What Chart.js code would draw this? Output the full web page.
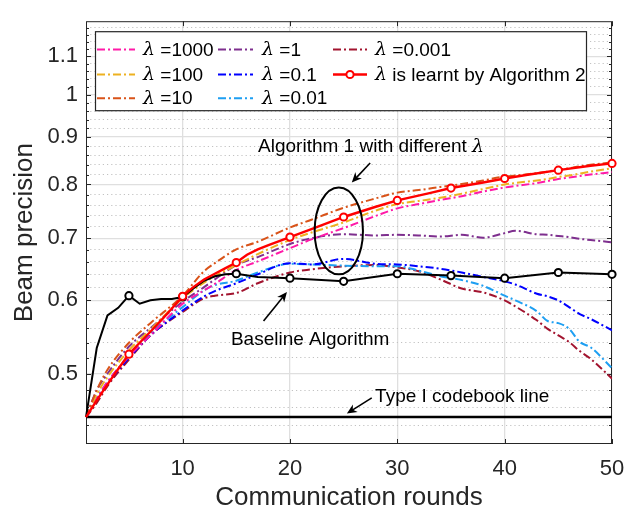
<!DOCTYPE html>
<html><head><meta charset="utf-8">
<script src="https://cdn.jsdelivr.net/npm/chart.js@4.4.0/dist/chart.umd.min.js"></script>
<style>html,body{margin:0;padding:0;background:#fff;overflow:hidden}canvas{display:block}</style>
</head><body>
<canvas id="c" width="639" height="514"></canvas>
<script>
// ---------------- data ----------------
const xTickLabels = [10, 20, 30, 40, 50];
const yTickLabels = [0.5, 0.6, 0.7, 0.8, 0.9, 1, 1.1];

const roundsDashed = [1,2,3,5,7,10,12,13,15,17,20,22,25,28,30,32,34,36,38,40,41,43,44,45,46,47,48,50];
const lambda1000  = [.449,.470,.490,.522,.550,.595,.615,.625,.647,.661,.683,.698,.718,.740,.754,.762,.770,.777,.786,.794,.797,.803,.807,.811,.814,.817,.820,.825];
const lambda100   = [.449,.475,.496,.530,.558,.603,.627,.637,.655,.673,.697,.710,.728,.750,.762,.768,.774,.782,.791,.800,.803,.808,.811,.815,.818,.822,.826,.833];
const lambda10    = [.449,.480,.505,.540,.567,.607,.645,.658,.681,.694,.719,.733,.755,.773,.784,.789,.795,.801,.808,.816,.818,.823,.826,.830,.833,.837,.840,.845];
const lambda1     = [.449,.480,.500,.535,.560,.598,.620,.632,.655,.668,.690,.700,.707,.705,.706,.705,.703,.706,.701,.709,.713,.707,.706,.704,.702,.699,.697,.693];
const lambda0_1   = [.449,.470,.488,.520,.550,.585,.606,.614,.626,.640,.658,.656,.665,.657,.656,.653,.649,.643,.636,.629,.624,.610,.606,.600,.590,.580,.573,.557];
const lambda0_01  = [.449,.470,.490,.522,.553,.590,.615,.623,.630,.643,.657,.656,.654,.653,.653,.646,.637,.631,.622,.607,.600,.584,.570,.567,.559,.541,.534,.507];
const lambda0_001 = [.449,.465,.485,.518,.550,.583,.603,.607,.611,.626,.643,.648,.653,.655,.651,.645,.632,.618,.612,.600,.591,.571,.559,.550,.541,.529,.519,.494];

const roundsLearnt = [1,2,3,4,5,6,7,8,9,10,11,12,13,14,15,16,17,18,20,22,25,28,30,33,35,38,40,42,45,48,50];
const learnt       = [.449,.468,.487,.506,.525,.540,.555,.571,.588,.606,.620,.632,.641,.650,.659,.672,.681,.688,.702,.716,.738,.757,.769,.783,.793,.804,.812,.819,.829,.838,.843];

const roundsBaseline = [1,2,3,4,5,6,7,8,9,10,11,12,13,14,15,17,20,25,30,35,40,45,50];
const baseline       = [.449,.533,.578,.589,.607,.595,.600,.602,.602,.605,.618,.630,.637,.640,.641,.636,.634,.629,.641,.638,.634,.643,.640];

const typeIRounds = [1, 50];
const typeI       = [.449, .449];

// ---------------- styling ----------------
const SANS  = '"Liberation Sans", Arial, Helvetica, sans-serif';
const SERIF = '"DejaVu Serif", "Liberation Serif", serif';
const AXIS  = '#262626';
const DASHDOT = [8, 3, 2, 3];

const pts = (xs, ys) => xs.map((x, i) => ({x: x, y: ys[i]}));
const markerR = c => (c.raw && c.raw.x % 5 === 0) ? 3.6 : 0;

function dashed(label, xs, ys, color, order) {
  return {label, data: pts(xs, ys), borderColor: color, backgroundColor: color,
    borderWidth: 2, borderDash: DASHDOT, pointRadius: 0, fill: false,
    cubicInterpolationMode: 'monotone', order};
}

const datasets = [
  {label: 'λ is learnt by Algorithm 2', data: pts(roundsLearnt, learnt), borderColor: '#ff0000',
   borderWidth: 2.4, tension: 0, pointRadius: markerR, pointBackgroundColor: '#ffffff',
   pointBorderColor: '#ff0000', pointBorderWidth: 2, clip: false, order: 0},
  {label: 'Baseline Algorithm', data: pts(roundsBaseline, baseline), borderColor: '#000000',
   borderWidth: 2, tension: 0, pointRadius: markerR, pointBackgroundColor: '#ffffff',
   pointBorderColor: '#000000', pointBorderWidth: 2, clip: false, order: 1},
  {label: 'Type I codebook line', data: pts(typeIRounds, typeI), borderColor: '#000000',
   borderWidth: 2.5, pointRadius: 0, order: 2},
  dashed('λ =1000', roundsDashed, lambda1000, '#ff1aa8', 5),
  dashed('λ =100', roundsDashed, lambda100, '#edb120', 4),
  dashed('λ =10', roundsDashed, lambda10, '#d95319', 3),
  dashed('λ =1', roundsDashed, lambda1, '#7e2f8e', 6),
  dashed('λ =0.1', roundsDashed, lambda0_1, '#0000ff', 7),
  dashed('λ =0.01', roundsDashed, lambda0_01, '#1e9ff2', 8),
  dashed('λ =0.001', roundsDashed, lambda0_001, '#a2142f', 9)
];

// y grid: labelled majors plus dotted minors every 0.02
const yMinorTicks = [];
for (let k = 22; k <= 59; k++) yMinorTicks.push(k * 2 / 100);
const r2 = v => Math.round(v * 100) / 100;
const yMajorSet = new Set(yTickLabels.map(r2));
const isMajorY = v => yMajorSet.has(r2(v));

// ---------------- overlay helpers ----------------
function drawMixed(ctx, parts, x, y, size, align, color) {
  const fontOf = p => (p.italic ? 'italic ' : '') + size + 'px ' + (p.italic ? SERIF : SANS);
  const widths = parts.map(p => { ctx.font = fontOf(p); return ctx.measureText(p.t).width; });
  const total = widths.reduce((a, b) => a + b, 0);
  let cx = align === 'center' ? x - total / 2 : x;
  ctx.textAlign = 'left'; ctx.textBaseline = 'middle'; ctx.fillStyle = color;
  parts.forEach((p, i) => { ctx.font = fontOf(p); ctx.fillText(p.t, cx, y); cx += widths[i]; });
}
function drawArrow(ctx, x1, y1, x2, y2) {
  const ang = Math.atan2(y2 - y1, x2 - x1), L = 10, W = 4.5;
  ctx.strokeStyle = '#000'; ctx.fillStyle = '#000'; ctx.lineWidth = 1.6; ctx.setLineDash([]);
  ctx.beginPath(); ctx.moveTo(x1, y1);
  ctx.lineTo(x2 - Math.cos(ang) * L * 0.6, y2 - Math.sin(ang) * L * 0.6); ctx.stroke();
  ctx.save(); ctx.translate(x2, y2); ctx.rotate(ang);
  ctx.beginPath(); ctx.moveTo(0, 0); ctx.lineTo(-L, -W); ctx.lineTo(-L * 0.7, 0); ctx.lineTo(-L, W);
  ctx.closePath(); ctx.fill(); ctx.restore();
}

const frame = {
  id: 'frame',
  beforeDatasetsDraw(chart) {
    const {ctx, chartArea: a, scales: {x, y}} = chart;
    ctx.save();
    ctx.strokeStyle = AXIS; ctx.lineWidth = 1; ctx.setLineDash([]);
    ctx.beginPath();
    y.ticks.forEach(t => {
      const py = Math.round(y.getPixelForValue(t.value)) + 0.5;
      const len = isMajorY(t.value) ? 5 : 3;
      ctx.moveTo(a.left, py); ctx.lineTo(a.left + len, py);
      ctx.moveTo(a.right, py); ctx.lineTo(a.right - len, py);
    });
    x.ticks.forEach(t => {
      const px = Math.round(x.getPixelForValue(t.value)) + 0.5;
      ctx.moveTo(px, a.bottom); ctx.lineTo(px, a.bottom - 5);
      ctx.moveTo(px, a.top); ctx.lineTo(px, a.top + 5);
    });
    ctx.stroke();
    ctx.strokeRect(a.left + 0.5, a.top + 0.5, a.right - a.left - 1, a.bottom - a.top - 1);
    ctx.restore();
  },
  afterDatasetsDraw(chart) {
    const {ctx, chartArea: a, scales: {x, y}} = chart;
    const P = (rx, ry) => [x.getPixelForValue(rx), y.getPixelForValue(ry)];
    ctx.save();
    // ellipse around the Algorithm 1 curves
    const [ex1, ey1] = P(22.3, 0.794), [ex2, ey2] = P(26.8, 0.640);
    ctx.strokeStyle = '#000'; ctx.lineWidth = 2; ctx.setLineDash([]);
    ctx.beginPath();
    ctx.ellipse((ex1 + ex2) / 2, (ey1 + ey2) / 2, (ex2 - ex1) / 2, (ey2 - ey1) / 2, 0, 0, Math.PI * 2);
    ctx.stroke();
    // arrows
    let p1 = P(27.47, 0.844), p2 = P(25.76, 0.804); drawArrow(ctx, p1[0], p1[1], p2[0], p2[1]);
    p1 = P(17.54, 0.570); p2 = P(19.72, 0.6126); drawArrow(ctx, p1[0], p1[1], p2[0], p2[1]);
    p1 = P(27.62, 0.471); p2 = P(25.30, 0.453); drawArrow(ctx, p1[0], p1[1], p2[0], p2[1]);
    // annotation texts
    let t = P(27.56, 0.878);
    drawMixed(ctx, [{t: 'Algorithm 1 with different '}, {t: 'λ', italic: true}], t[0], t[1], 19, 'center', '#000');
    t = P(21.88, 0.544);
    drawMixed(ctx, [{t: 'Baseline Algorithm'}], t[0], t[1], 19, 'center', '#000');
    t = P(27.93, 0.472);
    drawMixed(ctx, [{t: 'Type I codebook line'}], t[0], t[1], 19, 'left', '#000');

    // legend box (three columns, column-major order)
    const L = a.left, T = a.top;
    ctx.fillStyle = '#fff'; ctx.fillRect(L + 9, T + 10, 492, 80);
    ctx.strokeStyle = AXIS; ctx.lineWidth = 1.2; ctx.strokeRect(L + 9.5, T + 10.5, 491, 79);
    const cols = [{l: 11, r: 49, tx: 57}, {l: 132, r: 167, tx: 176}, {l: 247, r: 281, tx: 289}];
    const rows = [28.3, 53.3, 77];
    const order = [[3, 4, 5], [6, 7, 8], [9, 0]];
    order.forEach((col, ci) => col.forEach((di, ri) => {
      const ds = chart.data.datasets[di];
      const c = cols[ci], yy = T + rows[ri];
      ctx.strokeStyle = ds.borderColor; ctx.lineWidth = ds.borderWidth;
      ctx.setLineDash(ds.borderDash || []);
      ctx.beginPath(); ctx.moveTo(L + c.l, yy); ctx.lineTo(L + c.r, yy); ctx.stroke();
      ctx.setLineDash([]);
      if (di === 0) {
        ctx.beginPath(); ctx.arc(L + (c.l + c.r) / 2, yy, 3.6, 0, Math.PI * 2);
        ctx.fillStyle = '#fff'; ctx.fill(); ctx.lineWidth = 2; ctx.stroke();
      }
      const lab = ds.label;
      drawMixed(ctx, [{t: lab.slice(0, 1), italic: true}, {t: lab.slice(1)}], L + c.tx, yy + 1, 19, 'left', '#000');
    }));
    ctx.restore();
  }
};

new Chart(document.getElementById('c'), {
  type: 'line',
  data: {datasets},
  plugins: [frame],
  options: {
    responsive: false, animation: false, devicePixelRatio: 1,
    layout: {padding: {top: 5, right: 27, left: 0, bottom: 0}},
    plugins: {legend: {display: false}, tooltip: {enabled: false}},
    scales: {
      x: {
        type: 'linear', min: 1, max: 50,
        afterBuildTicks: s => { s.ticks = xTickLabels.map(v => ({value: v})); },
        afterFit: s => { s.height = 70; },
        ticks: {autoSkip: false, maxRotation: 0, padding: 12, color: AXIS,
                font: {family: SANS, size: 22}, callback: v => String(v)},
        grid: {color: '#dfdfdf', lineWidth: 1.3, drawTicks: false},
        border: {display: false},
        title: {display: true, text: 'Communication rounds', color: AXIS,
                font: {family: SANS, size: 26}, padding: {top: 0, bottom: 1}}
      },
      y: {
        type: 'logarithmic', min: 0.42, max: 1.2,
        afterBuildTicks: s => { s.ticks = yMinorTicks.map(v => ({value: v, major: isMajorY(v)})); },
        afterFit: s => { s.width = 86; },
        ticks: {autoSkip: false, padding: 8, color: AXIS, font: {family: SANS, size: 22},
                callback: v => isMajorY(v) ? String(r2(v)) : ''},
        grid: {drawTicks: false,
               color: c => (c.tick && isMajorY(c.tick.value)) ? '#dfdfdf' : '#c2c2c2',
               lineWidth: c => (c.tick && isMajorY(c.tick.value)) ? 1.3 : 1},
        border: {display: false, dash: c => (c.tick && isMajorY(c.tick.value)) ? [] : [1.2, 3]},
        title: {display: true, text: 'Beam precision', color: AXIS,
                font: {family: SANS, size: 26}, padding: {top: 9, bottom: 0}}
      }
    }
  }
});
</script>
</body></html>
